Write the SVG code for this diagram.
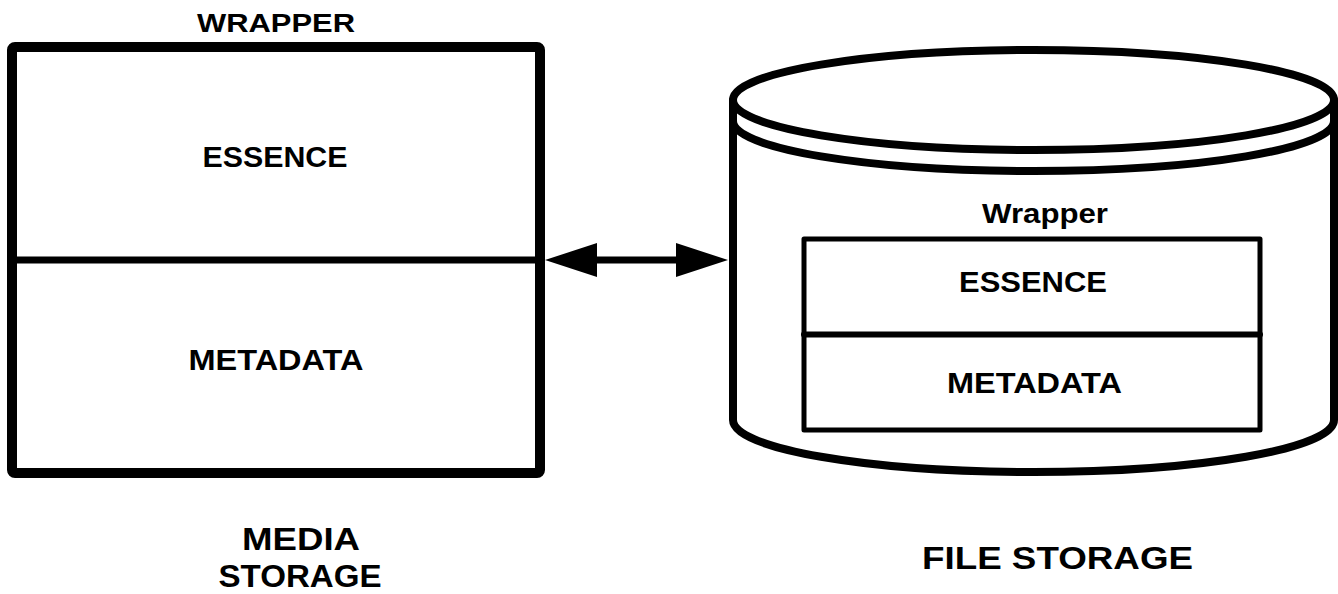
<svg xmlns="http://www.w3.org/2000/svg" width="1338" height="594" viewBox="0 0 1338 594">
<style>
.t{font-family:"Liberation Sans",Arial,sans-serif;font-weight:bold;fill:#000;text-anchor:middle}
.s{fill:none;stroke:#000;stroke-linejoin:round;stroke-linecap:round}
</style>
<rect width="1338" height="594" fill="#fff"/>
<g id="media-wrapper">
<rect class="s" x="12" y="47" width="528" height="426" rx="3" stroke-width="10" fill="#fff"/>
<line class="s" x1="12" y1="260" x2="540" y2="260" stroke-width="7" stroke-linecap="butt"/>
<text class="t" x="276" y="32" font-size="26" textLength="158" lengthAdjust="spacingAndGlyphs">WRAPPER</text>
<text class="t" x="275" y="167" font-size="29" textLength="145" lengthAdjust="spacingAndGlyphs">ESSENCE</text>
<text class="t" x="276" y="370" font-size="29" textLength="175" lengthAdjust="spacingAndGlyphs">METADATA</text>
</g>
<g id="media-label">
<text class="t" x="301" y="550" font-size="32" textLength="118" lengthAdjust="spacingAndGlyphs">MEDIA</text>
<text class="t" x="300" y="587" font-size="32" textLength="163" lengthAdjust="spacingAndGlyphs">STORAGE</text>
</g>
<g id="file-storage">
<path class="s" d="M733,100 L733,420 A300.5,52 0 0 0 1334,420 L1334,100" stroke-width="8" fill="#fff"/>
<ellipse class="s" cx="1033.5" cy="100" rx="300.5" ry="50" stroke-width="8" fill="#fff"/>
<path class="s" d="M733,121 A300.5,50 0 0 0 1334,121" stroke-width="8"/>
<text class="t" x="1045" y="223" font-size="28" textLength="126" lengthAdjust="spacingAndGlyphs">Wrapper</text>
<g id="file-wrapper">
<rect class="s" x="804" y="239" width="456" height="191" stroke-width="5" fill="#fff"/>
<line class="s" x1="804" y1="334.5" x2="1260" y2="334.5" stroke-width="6"/>
<text class="t" x="1033" y="292" font-size="29" textLength="148" lengthAdjust="spacingAndGlyphs">ESSENCE</text>
<text class="t" x="1034.5" y="393" font-size="29" textLength="175" lengthAdjust="spacingAndGlyphs">METADATA</text>
</g>
</g>
<g id="file-label">
<text class="t" x="1057.5" y="569" font-size="32" textLength="271" lengthAdjust="spacingAndGlyphs">FILE STORAGE</text>
</g>
<g id="connectors">
<line x1="590" y1="260" x2="684" y2="260" stroke="#000" stroke-width="7"/>
<polygon points="545,260 597,243 597,277" fill="#000"/>
<polygon points="728,260 676,243 676,277" fill="#000"/>
</g>
</svg>
